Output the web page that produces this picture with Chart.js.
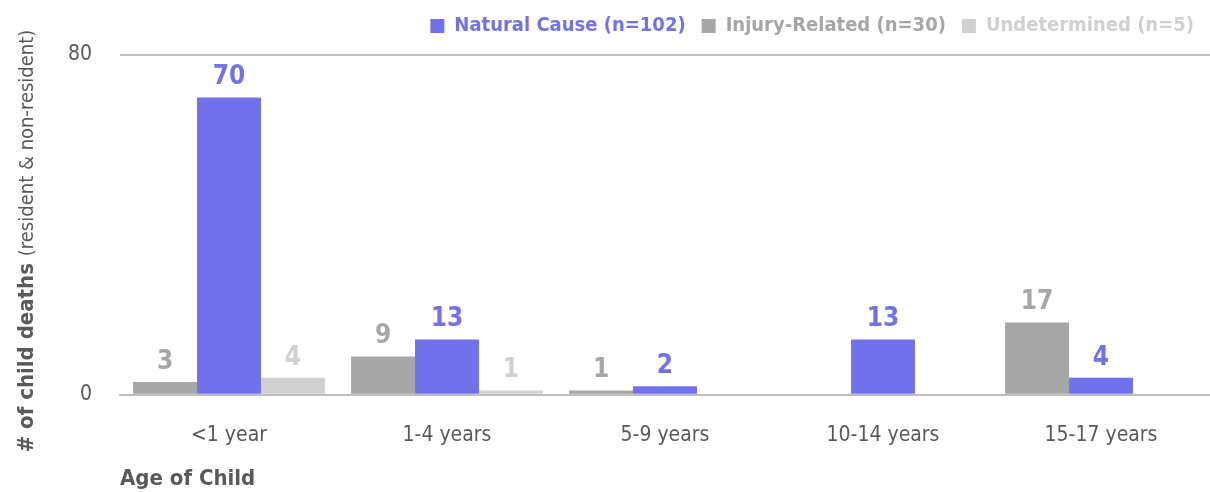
<!DOCTYPE html>
<html>
<head>
<meta charset="utf-8">
<script src="https://cdn.jsdelivr.net/npm/chart.js@4/dist/chart.umd.min.js"></script>
<style>
  html, body { margin: 0; padding: 0; background: #fff; }
  #wrap { width: 1210px; height: 492px; }
</style>
</head>
<body>
<div id="wrap"><canvas id="bar-chart"></canvas></div>
<script>
const FONT = "'Liberation Sans Narrow', 'DejaVu Sans Condensed', 'Open Sans', sans-serif";

const ageGroups = ['<1 year', '1-4 years', '5-9 years', '10-14 years', '15-17 years'];
const injuryRelated = [3, 9, 1, 0, 17];
const naturalCause = [70, 13, 2, 13, 4];
const undetermined = [4, 1, 0, 0, 0];
const yTicks = [0, 80];

const BLUE = '#7071EB';
const GRAY = '#A6A6A6';
const LIGHT = '#D0D0D0';

// legend shows Natural first, bars show Injury first
const legendOrder = [1, 0, 2];

// extra room under the legend
const legendMargin = {
  id: 'legendMargin',
  beforeInit(chart) {
    const fit = chart.legend.fit;
    chart.legend.fit = function () {
      fit.bind(chart.legend)();
      this.height += 9;
    };
  }
};

// value labels above each bar
const barLabels = {
  id: 'barLabels',
  afterDatasetsDraw(chart) {
    const ctx = chart.ctx;
    ctx.save();
    ctx.font = 'bold 26px ' + FONT;
    ctx.textAlign = 'center';
    ctx.textBaseline = 'bottom';
    chart.data.datasets.forEach((ds, i) => {
      chart.getDatasetMeta(i).data.forEach((bar, j) => {
        if (!ds.data[j]) return;
        ctx.fillStyle = ds.backgroundColor;
        ctx.fillText(ds.data[j], bar.x, bar.y - 7);
      });
    });
    ctx.restore();
  }
};

// y title with bold + light parts
const yTitle = {
  id: 'yTitle',
  afterDraw(chart) {
    const ctx = chart.ctx;
    const boldTxt = '# of child deaths ';
    const lightTxt = '(resident & non-resident)';
    ctx.save();
    ctx.translate(33, 241);
    ctx.rotate(-Math.PI / 2);
    ctx.textBaseline = 'alphabetic';
    ctx.font = 'bold 22px ' + FONT;
    const w1 = ctx.measureText(boldTxt).width;
    ctx.font = '20px ' + FONT;
    const w2 = ctx.measureText(lightTxt).width;
    let x = -(w1 + w2) / 2;
    ctx.font = 'bold 22px ' + FONT;
    ctx.fillStyle = '#595959';
    ctx.textAlign = 'left';
    ctx.fillText(boldTxt, x, 0);
    ctx.font = '20px ' + FONT;
    ctx.fillText(lightTxt, x + w1, 0);
    ctx.restore();
  }
};

new Chart(document.getElementById('bar-chart'), {
  type: 'bar',
  data: {
    labels: ageGroups,
    datasets: [
      { label: 'Injury-Related (n=30)', data: injuryRelated, backgroundColor: GRAY },
      { label: 'Natural Cause (n=102)', data: naturalCause, backgroundColor: BLUE },
      { label: 'Undetermined (n=5)', data: undetermined, backgroundColor: LIGHT }
    ]
  },
  options: {
    responsive: true,
    maintainAspectRatio: false,
    animation: false,
    layout: { padding: { left: 0, right: 0, top: 0, bottom: 2 } },
    datasets: { bar: { categoryPercentage: 0.88, barPercentage: 1.0 } },
    plugins: {
      tooltip: { enabled: false },
      legend: {
        position: 'top',
        align: 'end',
        labels: {
          boxWidth: 14,
          boxHeight: 14,
          padding: 16,
          font: { family: FONT, size: 20, weight: 'bold' },
          generateLabels(chart) {
            return legendOrder.map(i => {
              const ds = chart.data.datasets[i];
              return {
                text: ds.label,
                fillStyle: ds.backgroundColor,
                strokeStyle: ds.backgroundColor,
                fontColor: ds.backgroundColor,
                lineWidth: 0,
                datasetIndex: i
              };
            });
          }
        }
      }
    },
    scales: {
      x: {
        grid: { display: false },
        border: { color: '#BFBFBF', width: 2 },
        ticks: { color: '#595959', padding: 20, font: { family: FONT, size: 21 } },
        title: {
          display: true,
          text: 'Age of Child',
          align: 'start',
          color: '#595959',
          padding: { top: 0, bottom: 0 },
          font: { family: FONT, size: 22, weight: 'bold', lineHeight: 1.0 }
        }
      },
      y: {
        min: 0,
        max: 80,
        afterFit(scale) { scale.width = 120; },
        afterBuildTicks(scale) { scale.ticks = yTicks.map(v => ({ value: v })); },
        grid: { color: '#BFBFBF', lineWidth: 2, drawTicks: false },
        border: { display: false },
        ticks: { color: '#595959', padding: 28, font: { family: FONT, size: 21 } }
      }
    }
  },
  plugins: [legendMargin, barLabels, yTitle]
});
</script>
</body>
</html>
